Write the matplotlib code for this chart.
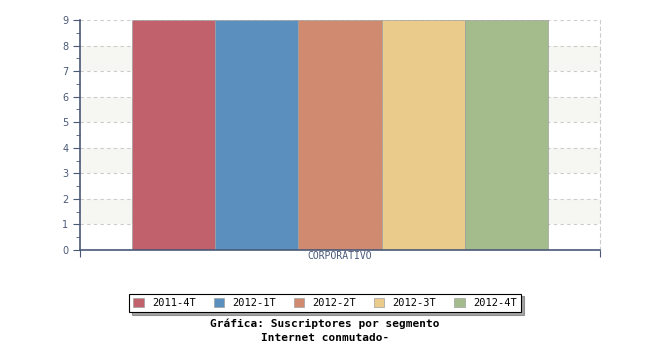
import matplotlib
matplotlib.use("Agg")
import matplotlib.pyplot as plt
import numpy as np

categories = ["CORPORATIVO"]
periods = ["2011-4T", "2012-1T", "2012-2T", "2012-3T", "2012-4T"]
values = [9, 9, 9, 9, 9]
colors = ["#c0616b", "#5b8fbe", "#d08a70", "#ebcb8b", "#a4bc8c"]

axis_col = "#4a5878"

fig = plt.figure(figsize=(6.5, 3.5), dpi=100)
ax = fig.add_axes([80/650, 100/350, 520/650, 230/350])

# alternating bands
for lo in range(1, 9, 2):
    ax.axhspan(lo, lo + 1, color="#f6f6f2", zorder=0, lw=0)

x = np.arange(len(categories))
w = 0.8 / len(periods)
for i, (p, v, c) in enumerate(zip(periods, values, colors)):
    ax.bar(x - 0.4 + w * (i + 0.5), [v], width=w, color=c, label=p,
           edgecolor="#a0a0a0", linewidth=0.5, zorder=2)

ax.set_xlim(-0.5, 0.5)
ax.set_ylim(0, 9)
ax.set_yticks(range(0, 10))
ax.set_yticks(np.arange(0.5, 9, 1), minor=True)
ax.grid(axis="y", color="#cccccc", linestyle=(0, (3, 3)), linewidth=0.8, zorder=1)

ax.set_xticks([-0.5, 0.5])
ax.set_xticklabels([])
ax.tick_params(axis="x", direction="out", length=5, color=axis_col)
ax.annotate(categories[0], xy=(0, 0), xycoords=("data", "axes fraction"),
            xytext=(0, -1), textcoords="offset points", ha="center", va="top",
            fontsize=7, color=axis_col, family="DejaVu Sans Mono")

ax.tick_params(axis="y", which="major", length=5, color=axis_col, labelcolor=axis_col, labelsize=7)
ax.tick_params(axis="y", which="minor", length=3, color=axis_col)

ax.spines["top"].set_visible(False)
ax.spines["right"].set_linestyle((0, (3, 3)))
ax.spines["right"].set_color("#cccccc")
ax.spines["left"].set_color(axis_col)
ax.spines["bottom"].set_color(axis_col)
ax.spines["left"].set_linewidth(1.2)
ax.spines["bottom"].set_linewidth(1.2)

leg = fig.legend(loc="center", bbox_to_anchor=(325/650, 1 - 303/350), ncol=5,
                 frameon=True, fancybox=False, shadow=True,
                 handlelength=1.0, handleheight=1.0, columnspacing=1.7,
                 borderpad=0.4, prop={"family": "DejaVu Sans Mono", "size": 7.5})
leg.get_frame().set_edgecolor("black")
leg.get_frame().set_linewidth(0.8)

fig.text(325/650, 1 - 324/350, "Gráfica: Suscriptores por segmento", ha="center",
         va="center", fontsize=8, fontweight="bold", family="DejaVu Sans Mono")
fig.text(325/650, 1 - 338/350, "Internet conmutado-", ha="center",
         va="center", fontsize=8, fontweight="bold", family="DejaVu Sans Mono")

fig.savefig("out.png", dpi=100)
